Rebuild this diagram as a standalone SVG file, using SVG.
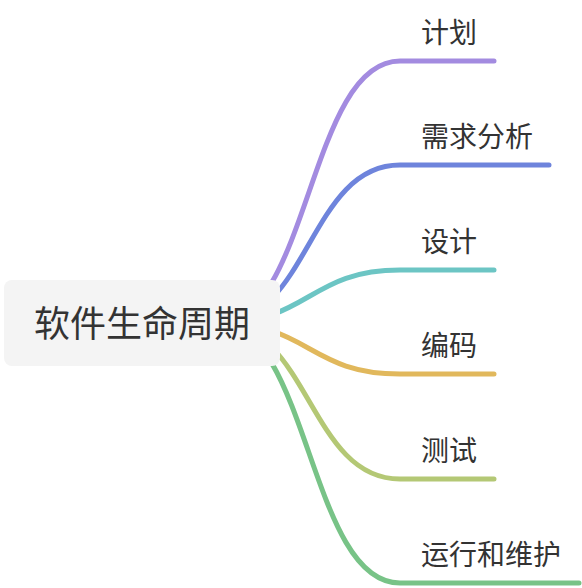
<svg xmlns="http://www.w3.org/2000/svg" width="582" height="588" viewBox="0 0 582 588">
<style>
.link{fill:none;stroke-width:5;stroke-linecap:round;stroke-linejoin:round}
.t{font-family:"Noto Sans CJK SC","Noto Sans CJK JP",sans-serif;fill:#333333;dominant-baseline:central}
.child{font-size:28px}
.root{font-size:36px;text-anchor:middle}
</style>
<rect width="582" height="588" fill="#ffffff"/>
<g id="connectors">
<path class="link" stroke="#a38be0" d="M218,323 C309,323 309,61 400,61 H494"/>
<path class="link" stroke="#6e84dc" d="M218,323 C309,323 309,165 400,165 H549"/>
<path class="link" stroke="#6cc5c4" d="M218,323 C309,323 309,270 400,270 H494"/>
<path class="link" stroke="#e1b85c" d="M218,323 C309,323 309,374 400,374 H494"/>
<path class="link" stroke="#b4c875" d="M218,323 C309,323 309,479 400,479 H494"/>
<path class="link" stroke="#78c387" d="M218,323 C309,323 309,583 400,583 H579"/>
</g>
<g id="root">
<rect x="4" y="280" width="276" height="86" rx="8" fill="#f4f4f4"/>
<text class="t root" x="142" y="321">软件生命周期</text>
</g>
<g id="n1"><text class="t child" x="421" y="31">计划</text></g>
<g id="n2"><text class="t child" x="421" y="135">需求分析</text></g>
<g id="n3"><text class="t child" x="421" y="240">设计</text></g>
<g id="n4"><text class="t child" x="421" y="344">编码</text></g>
<g id="n5"><text class="t child" x="421" y="449">测试</text></g>
<g id="n6"><text class="t child" x="421" y="553">运行和维护</text></g>
</svg>
